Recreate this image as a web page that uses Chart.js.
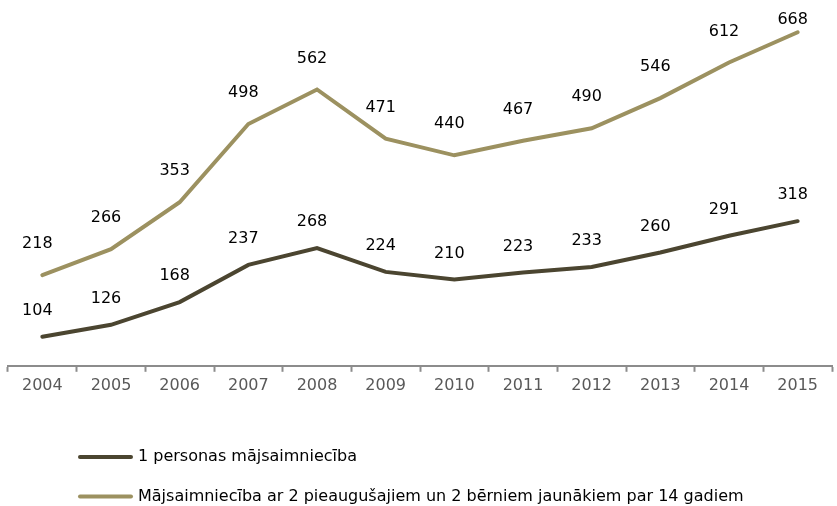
<!DOCTYPE html>
<html>
<head>
<meta charset="utf-8">
<script src="https://cdn.jsdelivr.net/npm/chart.js@4.4.1/dist/chart.umd.min.js"></script>
<style>
  body { margin: 0; background: #fff; }
  canvas { display: block; }
</style>
</head>
<body>
<canvas id="householdChart" width="837" height="506"></canvas>
<script>
  // Data
  const years = ['2004', '2005', '2006', '2007', '2008', '2009', '2010', '2011', '2012', '2013', '2014', '2015'];
  const onePerson = [104, 126, 168, 237, 268, 224, 210, 223, 233, 260, 291, 318];
  const twoAdultsTwoKids = [218, 266, 353, 498, 562, 471, 440, 467, 490, 546, 612, 668];
  const seriesNames = [
    '1 personas mājsaimniecība',
    'Mājsaimniecība ar 2 pieaugušajiem un 2 bērniem jaunākiem par 14 gadiem'
  ];

  const fontFamily = '"DejaVu Sans", Verdana, sans-serif';

  // Value labels above each point (kept inside the canvas at the top)
  const valueLabels = {
    id: 'valueLabels',
    afterDatasetsDraw(chart) {
      const ctx = chart.ctx;
      ctx.save();
      ctx.font = `16px ${fontFamily}`;
      ctx.fillStyle = '#000';
      ctx.textAlign = 'center';
      ctx.textBaseline = 'middle';
      chart.data.datasets.forEach((ds, i) => {
        const meta = chart.getDatasetMeta(i);
        meta.data.forEach((pt, j) => {
          const y = Math.max(20, pt.y - ds.labelLift);
          ctx.fillText(ds.data[j], pt.x - 5, y);
        });
      });
      ctx.restore();
    }
  };

  // Legend: one row per series, left aligned under the chart
  const rowLegend = {
    id: 'rowLegend',
    afterDraw(chart) {
      const ctx = chart.ctx;
      ctx.save();
      ctx.font = `16px ${fontFamily}`;
      ctx.textBaseline = 'middle';
      chart.data.datasets.forEach((ds, i) => {
        const y = 457 + i * 39.5;
        ctx.strokeStyle = ds.borderColor;
        ctx.lineWidth = 4;
        ctx.lineCap = 'round';
        ctx.beginPath();
        ctx.moveTo(80, y);
        ctx.lineTo(131, y);
        ctx.stroke();
        ctx.fillStyle = '#000';
        ctx.fillText(ds.label, 138, y);
      });
      ctx.restore();
    }
  };

  const ctx = document.getElementById('householdChart').getContext('2d');
  const chart = new Chart(ctx, {
    type: 'line',
    data: {
      labels: years,
      datasets: [
        {
          label: seriesNames[0],
          data: onePerson,
          borderColor: '#4b4530',
          backgroundColor: '#4b4530',
          borderWidth: 4,
          pointRadius: 0,
          tension: 0,
          borderCapStyle: 'round',
          labelLift: 26,
        },
        {
          label: seriesNames[1],
          data: twoAdultsTwoKids,
          borderColor: '#9c9160',
          backgroundColor: '#9c9160',
          borderWidth: 4,
          pointRadius: 0,
          tension: 0,
          borderCapStyle: 'round',
          labelLift: 31,
        },
      ],
    },
    options: {
      responsive: false,
      animation: false,
      layout: { padding: { left: 8, right: 5, top: 15, bottom: 107 } },
      scales: {
        x: {
          offset: true,
          grid: {
            display: true,
            offset: true,
            drawOnChartArea: false,
            drawTicks: true,
            tickLength: 6,
            tickWidth: 2,
            color: '#8c8c8c',
          },
          border: { display: true, color: '#8c8c8c', width: 2 },
          ticks: {
            color: '#595959',
            padding: 4,
            font: { family: fontFamily, size: 16 },
            maxRotation: 0,
          },
        },
        y: {
          display: false,
          min: 50,
          max: 700,
        },
      },
      plugins: {
        legend: { display: false },
        tooltip: { enabled: false },
      },
    },
    plugins: [valueLabels, rowLegend],
  });
</script>
</body>
</html>
